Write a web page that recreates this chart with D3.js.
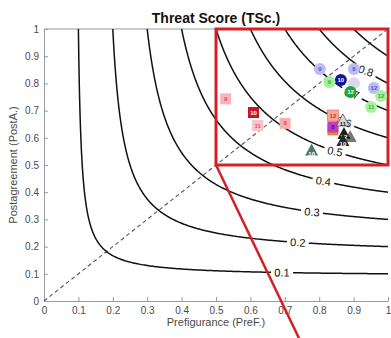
<!DOCTYPE html>
<html>
<head>
<meta charset="utf-8">
<script src="https://cdn.jsdelivr.net/npm/d3@7"></script>
<style>
  body { margin: 0; background: #fff; }
  svg { display: block; font-family: "Liberation Sans", Arial, Helvetica, sans-serif; }
</style>
</head>
<body>
<svg id="chart" width="391" height="338"></svg>
<script>
// Threat score isolines: TS = 1 / (1/PreF + 1/PostA - 1)
const tsLevels = [0.1, 0.2, 0.3, 0.4, 0.5, 0.6, 0.7, 0.8, 0.9];
const labelLevels = [0.1, 0.2, 0.3, 0.4, 0.5, 0.6, 0.7, 0.8];
const labelPreF = [0.692, 0.738, 0.779, 0.812, 0.846, 0.872, 0.895, 0.936];

const tickValues = [0, 0.1, 0.2, 0.3, 0.4, 0.5, 0.6, 0.7, 0.8, 0.9, 1];
const tickLabels = ["0", "0.1", "0.2", "0.3", "0.4", "0.5", "0.6", "0.7", "0.8", "0.9", "1"];

// Zoom window and its leader line (data units)
const zoomBox = [0.5, 0.5, 1, 1];
const leaderLine = [[0.5, 0.5], [0.75, -0.16]];

// Square markers (red family)
const sqLabels = ["9", "10", "11", "8", "12", "", "8"];
const sqPreF   = [0.528, 0.609, 0.621, 0.701, 0.840, 0.840, 0.840];
const sqPostA  = [0.743, 0.693, 0.645, 0.653, 0.682, 0.629, 0.640];

// Circle markers (blue family)
const blueLabels = ["9", "8", "", "10", "12"];
const bluePreF   = [0.802, 0.901, 0.901, 0.863, 0.959];
const bluePostA  = [0.853, 0.853, 0.801, 0.8125, 0.783];

// Circle markers (green family)
const greenLabels = ["9", "12", "12", "11"];
const greenPreF   = [0.830, 0.891, 0.980, 0.951];
const greenPostA  = [0.805, 0.768, 0.754, 0.713];

// Triangle markers
const triLabels = ["11", "", "12", "10", "10"];
const triPreF   = [0.869, 0.890, 0.872, 0.869, 0.778];
const triPostA  = [0.662, 0.603, 0.614, 0.588, 0.553];

// Marker styles
const sqStyle = [
  { fill: "#f7b3b8", text: "#d9485a" },
  { fill: "#c8142c", text: "#ffffff" },
  { fill: "#f9c4c6", text: "#e0606e" },
  { fill: "#f7b0b2", text: "#d9485a" },
  { fill: "#f6a89a", text: "#d2301e", stroke: "#e87b6a" },
  { fill: "#e8862a", text: "#e8862a" },
  { fill: "#c03cc6", text: "#5a1060" }
];
const blueStyle = [
  { fill: "#b9bdf2", text: "#5558c8" },
  { fill: "#b9bdf2", text: "#5558c8" },
  { fill: "#dcd8f0", text: "#5558c8" },
  { fill: "#10149a", text: "#ffffff" },
  { fill: "#b9bdf2", text: "#5558c8" }
];
const greenStyle = [
  { fill: "#9ef09a", text: "#34b034" },
  { fill: "#1ea43e", text: "#ffffff" },
  { fill: "#a6f29e", text: "#34b034" },
  { fill: "#a6f29e", text: "#34b034" }
];
const triStyle = [
  { fill: "#d8d8d8", text: "#222222", stroke: "#555555" },
  { fill: "#777777", text: "#ffffff" },
  { fill: "#1e1e1e", text: "#ffffff" },
  { fill: "#262626", text: "#ffffff" },
  { fill: "#4c7a72", text: "#ffffff" }
];

const svg = d3.select("#chart");
const x = d3.scaleLinear().domain([0, 1]).range([44, 388]);
const y = d3.scaleLinear().domain([0, 1]).range([301, 29]);

// Axes
const axisColor = "#9a9a9a";
const textColor = "#4a4a4a";

const xAxis = svg.append("g").attr("transform", `translate(0,${y(0)})`)
  .call(d3.axisBottom(x).tickValues(tickValues).tickFormat((d, i) => tickLabels[i])
    .tickSizeInner(-4).tickSizeOuter(0).tickPadding(6));
const yAxis = svg.append("g").attr("transform", `translate(${x(0)},0)`)
  .call(d3.axisLeft(y).tickValues(tickValues).tickFormat((d, i) => tickLabels[i])
    .tickSizeInner(-4).tickSizeOuter(0).tickPadding(5));
[xAxis, yAxis].forEach(g => {
  g.select(".domain").attr("stroke", axisColor);
  g.selectAll(".tick line").attr("stroke", axisColor);
  g.selectAll(".tick text").attr("fill", textColor).attr("font-size", 10)
    .attr("font-family", "Liberation Sans, Arial, sans-serif");
});
// top border of the axes box
svg.append("line").attr("x1", x(0)).attr("x2", x(1)).attr("y1", y(1)).attr("y2", y(1))
  .attr("stroke", axisColor);

// Diagonal (PreF = PostA)
svg.append("line")
  .attr("x1", x(0)).attr("y1", y(0)).attr("x2", x(1)).attr("y2", y(1))
  .attr("stroke", "#555").attr("stroke-width", 1.1).attr("stroke-dasharray", "4,3");

// Isolines
function isoline(t) {
  const m = 2 * t / (1 + t);
  const pts = [];
  const n = 200;
  for (let i = 0; i <= n; i++) {
    const py = 1 - (1 - m) * i / n;
    pts.push([1 / (1 / t - 1 / py + 1), py]);
  }
  for (let i = 1; i <= n; i++) {
    const px = m + (1 - m) * i / n;
    pts.push([px, 1 / (1 / t - 1 / px + 1)]);
  }
  return pts;
}
const line = d3.line().x(d => x(d[0])).y(d => y(d[1]));
svg.append("g").selectAll("path").data(tsLevels).join("path")
  .attr("d", t => line(isoline(t)))
  .attr("fill", "none").attr("stroke", "#111").attr("stroke-width", 1.5);

// Inline isoline labels, gently tilted along the curve
const k = (y(0) - y(1)) / (x(1) - x(0));
const lbl = svg.append("g");
labelLevels.forEach((t, i) => {
  const px = labelPreF[i];
  const py = 1 / (1 / t - 1 / px + 1);
  const ang = 0.6 * Math.atan(k * (py * py) / (px * px)) * 180 / Math.PI;
  const g = lbl.append("g").attr("transform", `translate(${x(px)},${y(py)}) rotate(${ang})`);
  g.append("rect").attr("x", -11).attr("y", -6).attr("width", 22).attr("height", 12).attr("fill", "#fff");
  g.append("text").attr("text-anchor", "middle").attr("dy", "0.36em")
    .attr("font-size", 11).attr("fill", "#111").text(d3.format(".1f")(t));
});

// Zoom window and leader line
svg.append("rect")
  .attr("x", x(zoomBox[0])).attr("y", y(zoomBox[3]))
  .attr("width", x(zoomBox[2]) - x(zoomBox[0])).attr("height", y(zoomBox[1]) - y(zoomBox[3]))
  .attr("fill", "none").attr("stroke", "#d41f26").attr("stroke-width", 3);
svg.append("line")
  .attr("x1", x(leaderLine[0][0])).attr("y1", y(leaderLine[0][1]))
  .attr("x2", x(leaderLine[1][0])).attr("y2", y(leaderLine[1][1]))
  .attr("stroke", "#d41f26").attr("stroke-width", 2.5);

// Markers
const mk = svg.append("g");
function addLabel(g, txt, color, dy) {
  if (!txt) return;
  g.append("text").attr("text-anchor", "middle").attr("dy", dy)
    .attr("font-size", 6).attr("font-weight", "bold").attr("fill", color).text(txt);
}
// orange and magenta squares sit under the rest
const sqOrder = [5, 6, 0, 1, 2, 3, 4];
sqOrder.forEach(i => {
  const g = mk.append("g").attr("transform", `translate(${x(sqPreF[i])},${y(sqPostA[i])})`);
  const s = 11;
  g.append("rect").attr("x", -s / 2).attr("y", -s / 2).attr("width", s).attr("height", s)
    .attr("fill", sqStyle[i].fill).attr("stroke", sqStyle[i].stroke || "none").attr("stroke-width", 0.8);
  addLabel(g, sqLabels[i], sqStyle[i].text, "0.35em");
});
function circles(px, py, labels, styles) {
  px.forEach((v, i) => {
    const g = mk.append("g").attr("transform", `translate(${x(v)},${y(py[i])})`);
    g.append("circle").attr("r", 6).attr("fill", styles[i].fill);
    addLabel(g, labels[i], styles[i].text, "0.35em");
  });
}
circles(bluePreF, bluePostA, blueLabels, blueStyle);
circles(greenPreF, greenPostA, greenLabels, greenStyle);
triPreF.forEach((v, i) => {
  const g = mk.append("g").attr("transform", `translate(${x(v)},${y(triPostA[i])})`);
  g.append("path").attr("d", "M0,-7L6.5,5L-6.5,5Z")
    .attr("fill", triStyle[i].fill).attr("stroke", triStyle[i].stroke || "none").attr("stroke-width", 0.8);
  addLabel(g, triLabels[i], triStyle[i].text, "0.9em");
});

// Title and axis titles
svg.append("text").attr("x", 216).attr("y", 23).attr("text-anchor", "middle")
  .attr("font-size", 14).attr("font-weight", "bold").attr("fill", "#111").text("Threat Score (TSc.)");
svg.append("text").attr("x", (x(0) + x(1)) / 2).attr("y", 326).attr("text-anchor", "middle")
  .attr("font-size", 11).attr("fill", textColor).text("Prefigurance (PreF.)");
svg.append("text").attr("transform", `translate(17,${(y(0) + y(1)) / 2}) rotate(-90)`)
  .attr("text-anchor", "middle").attr("font-size", 11).attr("fill", textColor).text("Postagreement (PostA.)");
</script>
</body>
</html>
